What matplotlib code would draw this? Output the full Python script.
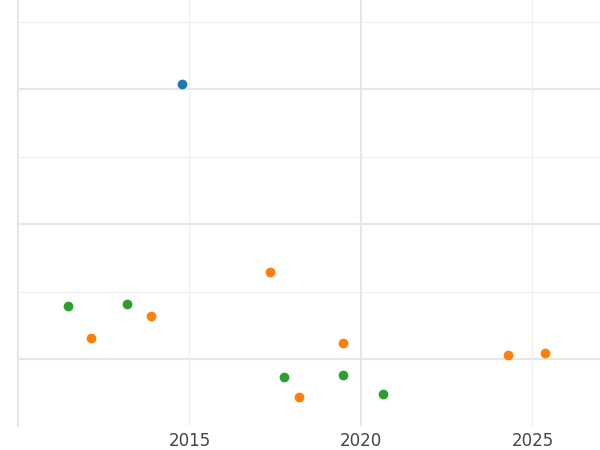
import matplotlib
matplotlib.use("Agg")
import matplotlib.pyplot as plt

blue_x = [2014.77]; blue_y = [4.07]
orange_x = [2012.14, 2013.89, 2017.36, 2019.49, 2018.18, 2024.30, 2025.38]
orange_y = [0.31, 0.64, 1.29, 0.24, -0.56, 0.06, 0.09]
green_x = [2011.47, 2013.19, 2017.77, 2019.49, 2020.63]
green_y = [0.79, 0.81, -0.27, -0.24, -0.52]
xticks = [2015, 2020, 2025]

fig = plt.figure(figsize=(6, 4.5), dpi=100)
ax = fig.add_axes([0.03, 24/450, 0.97, 426/450])
ax.set_xlim(2010, 2026.97)
ax.set_ylim(-0.99, 5.32)
for y in [-0.0, 2.0, 4.0]:
    ax.axhline(y, color="#e6e6e6", lw=1.5, zorder=0)
for y in [1.0, 3.0, 5.0]:
    ax.axhline(y, color="#eeeeee", lw=0.8, zorder=0)
ax.axvline(2020, color="#e6e6e6", lw=1.5, zorder=0)
for x in [2015, 2025]:
    ax.axvline(x, color="#eeeeee", lw=0.8, zorder=0)
for s in ax.spines.values():
    s.set_visible(False)
ax.spines["left"].set_visible(True)
ax.spines["left"].set_color("#e6e6e6")
ax.spines["left"].set_linewidth(1.5)
ax.scatter(blue_x, blue_y, color="#1f77b4", s=36, zorder=3)
ax.scatter(orange_x, orange_y, color="#ff7f0e", s=36, zorder=3)
ax.scatter(green_x, green_y, color="#2ca02c", s=36, zorder=3)
ax.set_xticks(xticks)
ax.set_xticklabels([str(t) for t in xticks], fontsize=12, color="#444444")
ax.tick_params(axis="x", length=0, pad=4)
ax.set_yticks([])
fig.savefig("out.png", dpi=100)
